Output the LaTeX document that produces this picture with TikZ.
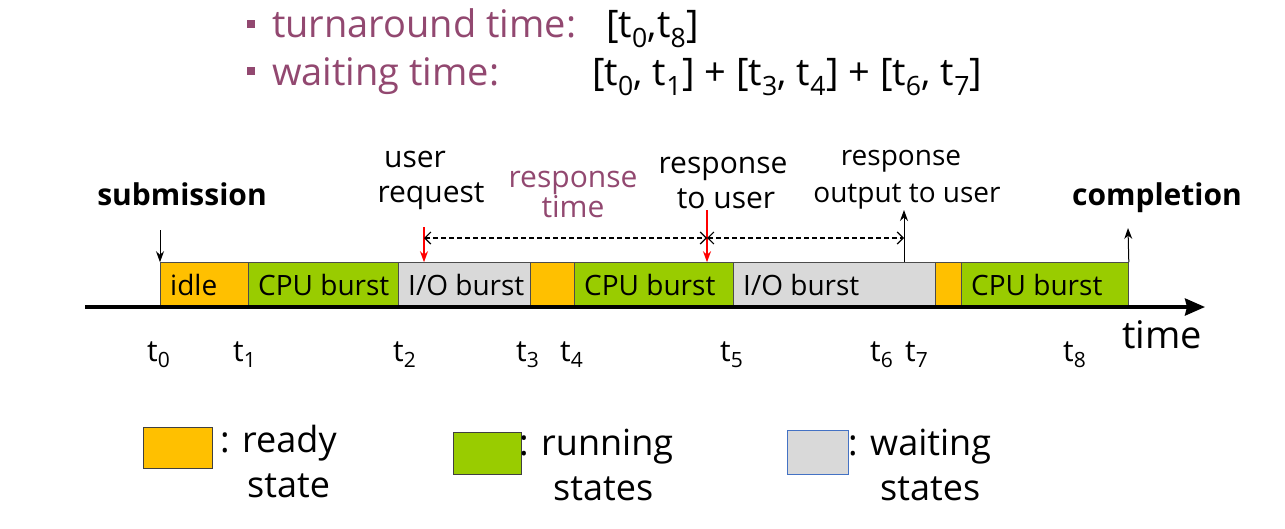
\documentclass[tikz,border=0pt]{standalone}
\usepackage{fontspec}
\setmainfont{Open Sans}
\usetikzlibrary{positioning, arrows.meta}
\definecolor{readyc}{RGB}{255,192,0}
\definecolor{runc}{RGB}{153,204,0}
\definecolor{waitc}{RGB}{217,217,217}
\definecolor{plum}{RGB}{146,72,112}
\definecolor{legblue}{RGB}{68,114,196}
\newcommand{\ts}[1]{t\textsubscript{#1}}
\tikzset{>={Stealth[length=11pt,width=8pt]}}

\begin{document}
\begin{tikzpicture}[x=1pt, y=-1pt,
  seg/.style={draw=black!70, line width=0.8pt, anchor=south west, minimum height=44pt, inner sep=0pt},
  segtext/.style={anchor=west, inner xsep=10pt, font=\fontsize{28}{32}\selectfont},
  tlab/.style={anchor=base west, inner sep=0pt, font=\fontsize{30}{34}\selectfont},
  note/.style={anchor=base, inner sep=0pt, font=\fontsize{30}{34}\selectfont},
  big/.style={anchor=base west, inner sep=0pt, font=\fontsize{36}{40}\selectfont},
  head/.style={anchor=base west, inner sep=0pt, font=\fontsize{38}{42}\selectfont},
  legbox/.style={draw=black!75, line width=0.8pt, anchor=north west, inner sep=0pt},
  bulletbox/.style={fill=plum, minimum size=8pt, inner sep=0pt},
  dasharrow/.style={dash pattern=on 5pt off 3pt, line width=1.2pt,
    arrows={Straight Barb[length=6pt,width=12pt]-Straight Barb[length=6pt,width=12pt]}}]
\useasboundingbox (0,0) rectangle (1285,528);

% definitions on top
\node[bulletbox] (bul1) at (251,24) {};
\node[bulletbox] (bul2) at (251,71) {};
\node[head, text=plum] (turn) at (272,37) {turnaround time:};
\node[head] (turnval) at (606,37) {[\ts{0},\ts{8}]};
\node[head, text=plum] (wait) at (272,85) {waiting time:};
\node[head] (waitval) at (592,85) {[\ts{0}, \ts{1}] + [\ts{3}, \ts{4}] + [\ts{6}, \ts{7}]};

% the time line
\foreach \a/\b/\c/\nm/\txt in {160/248/readyc/s0/idle, 248/398/runc/s1/{CPU burst},
  398/530/waitc/s2/{I/O burst}, 530/574/readyc/s3/{}, 574/733/runc/s4/{CPU burst},
  733/935/waitc/s5/{I/O burst}, 935/961/readyc/s6/{}, 961/1128/runc/s7/{CPU burst}}
{
\node[seg, fill=\c, minimum width={(\b-\a)*1pt}] (\nm) at (\a,307) {};
\node[segtext] (\nm txt) at (\nm.west) {\txt};
}
\coordinate (axstart) at (85,307);
\coordinate (axend) at (1205,307);
\draw[line width=3.5pt, -{Stealth[length=20pt,width=17pt,inset=2pt]}] (axstart) -- (axend);
\node[big, font=\fontsize{38}{42}\selectfont] (time) at (1122,348) {time};

\foreach \n/\x in {0/147, 1/233, 2/393, 3/516, 4/560, 5/720, 6/870, 7/905, 8/1063}
\node[tlab] (t\n) at (\x,361) {\ts{\n}};

% events
\node[note, font=\fontsize{30}{34}\selectfont\bfseries] (sub) at (182,205) {submission};
\node[note, font=\fontsize{30}{34}\selectfont\bfseries] (cmp) at (1157,205) {completion};
\node[note] (usr1) at (415,167) {user};
\node[note] (usr2) at (431,202) {request};
\node[note, text=plum] (rt1) at (573,187) {response};
\node[note, text=plum] (rt2) at (573,217) {time};
\node[note] (ru1) at (723,173) {response};
\node[note] (ru2) at (726,208) {to user};
\node[note, font=\fontsize{28}{32}\selectfont] (ro1) at (901,165) {response};
\node[note, font=\fontsize{28}{32}\selectfont] (ro2) at (907,202) {output to user};

\coordinate (subtop) at (160,230);
\coordinate (cmptop) at (1128,228);
\coordinate (outtop) at (904,210);
\coordinate (reqtop) at (424,227);
\coordinate (rsptop) at (707,210);
\coordinate (dashy) at (0,238);
\draw[->, line width=1pt] (subtop) -- (s0.north west);
\draw[->, line width=1pt] (s7.north east) -- (cmptop);
\draw[->, line width=1pt] (outtop |- s5.north) -- (outtop);
\draw[->, red, line width=1.5pt] (reqtop) -- (reqtop |- s2.north);
\draw[->, red, line width=1.5pt] (rsptop) -- (rsptop |- s4.north);
\draw[dasharrow] (reqtop |- dashy) -- (rsptop |- dashy);
\draw[dasharrow] (rsptop |- dashy) -- (outtop |- dashy);

% legend
\node[legbox, fill=readyc, minimum width=69pt, minimum height=41pt] (legrdy) at (143,427) {};
\node[legbox, fill=runc, minimum width=68pt, minimum height=42pt] (legrun) at (453,432) {};
\node[legbox, fill=waitc, draw=legblue, minimum width=61pt, minimum height=44pt] (legwait) at (787,430) {};
\node[big] (rdy1) at (220,452) {: ready};
\node[big] (rdy2) at (247,497) {state};
\node[big] (run1) at (519,455) {: running};
\node[big] (run2) at (553,500) {states};
\node[big] (wt1) at (848,455) {: waiting};
\node[big] (wt2) at (880,500) {states};
\end{tikzpicture}
\end{document}
